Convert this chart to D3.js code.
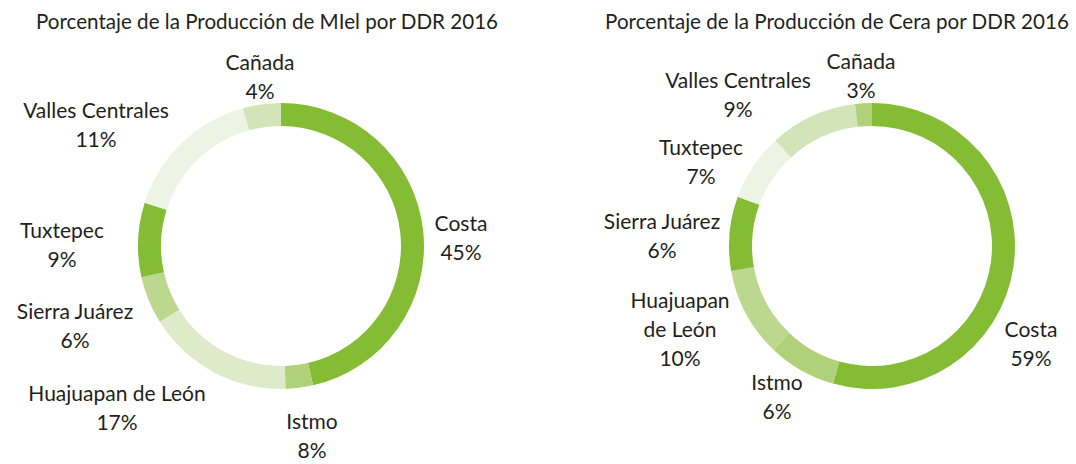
<!DOCTYPE html>
<html>
<head>
<meta charset="utf-8">
<script src="https://cdn.jsdelivr.net/npm/d3@7"></script>
<style>
  body { margin: 0; background: #fff; }
  svg text { font-family: Lato, "Open Sans", sans-serif; fill: #231f20; }
</style>
</head>
<body>
<div id="chart"></div>
<script>
// datos de las dos gráficas (orden horario desde arriba)
const regiones = ['Costa', 'Istmo', 'Huajuapan de León', 'Sierra Juárez', 'Tuxtepec', 'Valles Centrales', 'Cañada']
// porcentajes impresos en las etiquetas
const mielPct = [45, 8, 17, 6, 9, 11, 4]
const ceraPct = [59, 6, 10, 6, 7, 9, 3]
// tamaño de cada segmento tal como está dibujado en la imagen (%)
const mielArco = [46.4, 3.1, 16.6, 5.4, 8.4, 15.8, 4.3]
const ceraArco = [54.4, 7.7, 10.1, 8.4, 7.6, 9.9, 1.9]
const titulos = ['Porcentaje de la Producción de MIel por DDR 2016', 'Porcentaje de la Producción de Cera por DDR 2016']

// colores de cada segmento
const mielColores = ['#84bc34', '#b1d07a', '#deebcb', '#bcd78e', '#84bc34', '#edf4e3', '#d3e5b8']
const ceraColores = ['#84bc34', '#b1d07a', '#bcd78e', '#84bc34', '#edf4e3', '#d3e5b8', '#b1d07a']

// posiciones de etiquetas relativas al centro de cada dona (x, y de la primera línea)
const mielEtiquetas = [[180, -15, ['Costa']], [31, 183, ['Istmo']], [-164, 155, ['Huajuapan de León']],
  [-206, 73, ['Sierra Juárez']], [-219, -8, ['Tuxtepec']], [-185, -128, ['Valles Centrales']], [-21, -176, ['Cañada']]]
const ceraEtiquetas = [[159, 91, ['Costa']], [-95, 144, ['Istmo']], [-192, 62, ['Huajuapan', 'de León']],
  [-210, -17, ['Sierra Juárez']], [-171, -91, ['Tuxtepec']], [-134, -158, ['Valles Centrales']], [-11, -177, ['Cañada']]]

const width = 1076
const height = 464
const r_out = 143
const r_in = 120
const linea = 29
const fs = 21
const fs_titulo = 20.6

const svg = d3.select('#chart').append('svg').attr('width', width).attr('height', height)

const pie = d3.pie().sort(null).value(d => d)
const arc = d3.arc().innerRadius(r_in).outerRadius(r_out)

function dibujar_dona(cx, cy, titulo, tx, arcos, pct, colores, etiquetas)
{
    svg.append('text').text(titulo).attr('x', tx).attr('y', 29)
        .attr('text-anchor', 'middle').attr('font-size', fs_titulo)
    let g = svg.append('g').attr('transform', `translate(${cx},${cy})`)
    g.selectAll('path').data(pie(arcos)).join('path')
        .attr('d', arc).attr('fill', (d, i) => colores[i])
    // etiquetas: nombre y porcentaje
    etiquetas.forEach((e, i) => {
        let t = g.append('text').attr('text-anchor', 'middle').attr('font-size', fs)
        let lineas = e[2].concat([pct[i] + '%'])
        lineas.forEach((s, k) => {
            t.append('tspan').attr('x', e[0]).attr('y', e[1] + k * linea).text(s)
        })
    })
}

dibujar_dona(281, 246, titulos[0], 267, mielArco, mielPct, mielColores, mielEtiquetas)
dibujar_dona(872, 246, titulos[1], 837, ceraArco, ceraPct, ceraColores, ceraEtiquetas)
</script>
</body>
</html>
